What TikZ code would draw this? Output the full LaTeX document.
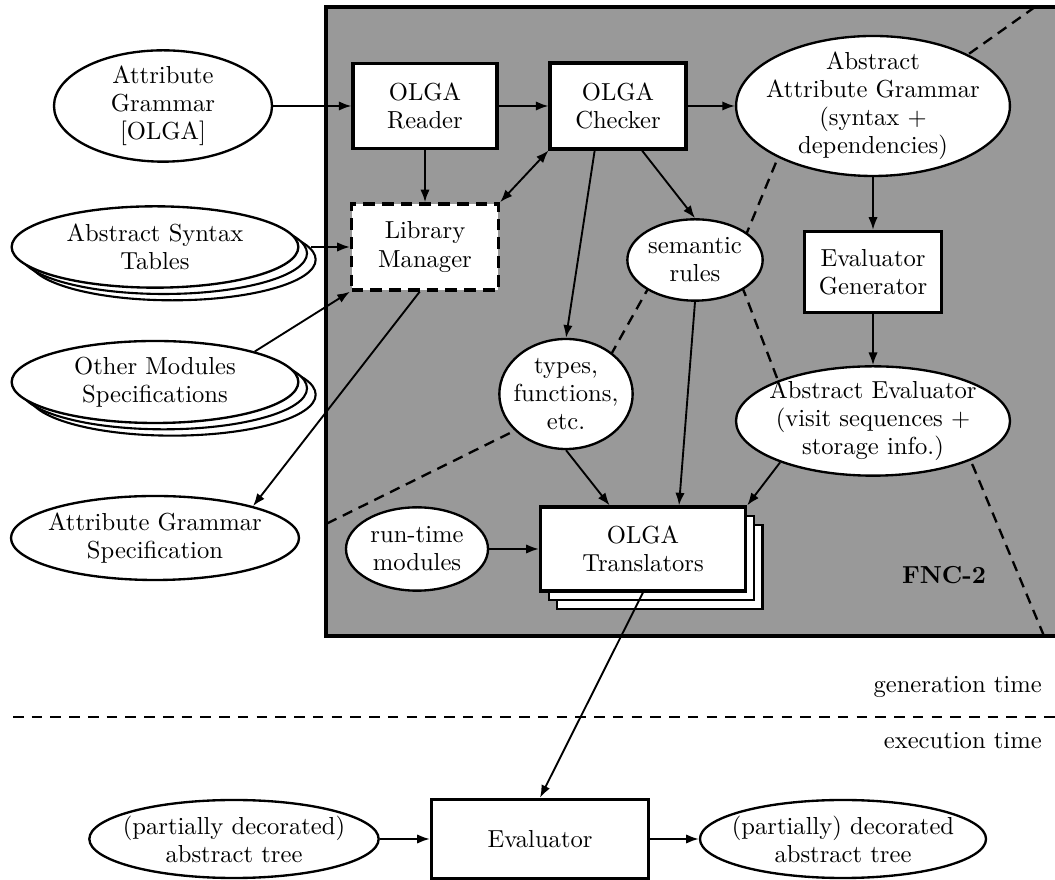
\documentclass[tikz,border=0pt]{standalone}
\usepackage{tikz}
\usetikzlibrary{arrows.meta,positioning,shapes.geometric,shadows}

\begin{document}
\begin{tikzpicture}[
    on grid,
    every node/.style={font=\fontsize{10.5}{12}\selectfont},
    box/.style={draw, fill=white, line width=1.3pt, align=center, inner sep=0pt},
    dashbox/.style={box, dash pattern=on 5pt off 3pt, line width=1.5pt},
    ell/.style={ellipse, draw, fill=white, line width=1pt, align=center, inner xsep=-0.15cm, inner ysep=-0.1cm},
    stackell/.style={ell,
        copy shadow={shadow xshift=7.4pt, shadow yshift=-5.4pt, fill=white, draw=black, line width=0.9pt},
        copy shadow={shadow xshift=3.7pt, shadow yshift=-2.7pt, fill=white, draw=black, line width=0.9pt}},
    stackbox/.style={box,
        copy shadow={shadow xshift=7.2pt, shadow yshift=-7.6pt, fill=white, draw=black, line width=0.9pt},
        copy shadow={shadow xshift=3.6pt, shadow yshift=-3.8pt, fill=white, draw=black, line width=0.9pt}},
    arrow/.style={-{Latex[length=1.9mm,width=1.4mm]}, line width=0.8pt},
    biarrow/.style={{Latex[length=1.9mm,width=1.4mm]}-{Latex[length=1.9mm,width=1.4mm]}, line width=0.8pt},
    cutline/.style={line width=1pt, dash pattern=on 4.5pt off 3pt},
    fncarea/.style={draw, line width=1.3pt, fill=black!40}
]
\useasboundingbox (0,0) rectangle (15.825,13.2);
\draw[fncarea] (4.89,3.66) rectangle (15.95,13.095);
\draw[cutline] (15.525,13.095) -- (14.595,12.435) -- (13.95,11.985) -- (11.91,11.4) -- (11.655,10.8)
    -- (11.22,9.75) -- (11.1,9.45) -- (9.84,9.075) -- (9.675,8.79) -- (9.195,7.935) -- (9.0,7.575)
    -- (7.95,6.855) -- (7.65,6.705) -- (4.89,5.34);
\draw[cutline] (11.025,9.15) -- (11.175,8.79) -- (11.655,7.53) -- (11.85,7.02) -- (14.4,6.6)
    -- (14.595,6.21) -- (15.66,3.66);
\node[font=\fontsize{10.5}{12}\selectfont\bfseries] (fnclabel) at (14.16,4.575) {FNC-2};

\node[ell, minimum width=3.27cm, minimum height=1.67cm] (agolga) at (2.445,11.61) {Attribute\\Grammar\\{[OLGA]}};
\node[box, minimum width=2.16cm, minimum height=1.28cm, right=3.93cm of agolga] (reader) {OLGA\\Reader};
\node[box, minimum width=2.04cm, minimum height=1.29cm, right=2.895cm of reader] (checker) {OLGA\\Checker};
\node[ell, minimum width=4.05cm, minimum height=2.1cm, right=3.825cm of checker] (aag) {Abstract\\Attribute Grammar\\(syntax +\\dependencies)};
\node[dashbox, minimum width=2.2cm, minimum height=1.29cm, below=2.115cm of reader] (libmgr) {Library\\Manager};
\node[stackell, minimum width=4.3cm, minimum height=1.22cm, left=4.05cm of libmgr] (ast) {Abstract Syntax\\Tables};
\node[stackell, minimum width=4.3cm, minimum height=1.23cm, below=2.025cm of ast] (oms) {Other Modules\\Specifications};
\node[ell, minimum width=4.32cm, minimum height=1.26cm, below=2.34cm of oms] (ags) {Attribute Grammar\\Specification};
\node[ell, minimum width=2.03cm, minimum height=1.22cm, below right=2.31cm and 1.155cm of checker] (sem) {semantic\\rules};
\node[box, minimum width=2.06cm, minimum height=1.22cm, below=2.49cm of aag] (evgen) {Evaluator\\Generator};
\node[ell, minimum width=4.11cm, minimum height=1.64cm, below=2.235cm of evgen] (abseval) {Abstract Evaluator\\(visit sequences +\\storage info.)};
\node[ell, minimum width=2.0cm, minimum height=1.65cm, below left=4.32cm and 0.78cm of checker] (types) {types,\\functions,\\etc.};
\node[stackbox, minimum width=3.08cm, minimum height=1.26cm, below right=2.325cm and 1.155cm of types] (transl) {OLGA\\Translators};
\node[ell, minimum width=2.13cm, minimum height=1.25cm, left=3.39cm of transl] (runtime) {run-time\\modules};
\node[box, minimum width=3.26cm, minimum height=1.19cm, below left=4.35cm and 1.545cm of transl] (evaluator) {Evaluator};
\node[ell, minimum width=4.34cm, minimum height=1.17cm, left=4.59cm of evaluator] (partin) {(partially decorated)\\abstract tree};
\node[ell, minimum width=4.28cm, minimum height=1.17cm, right=4.545cm of evaluator] (partout) {(partially) decorated\\abstract tree};

\draw[arrow] (agolga) -- (reader);
\draw[arrow] (reader) -- (checker);
\draw[arrow] (checker) -- (aag);
\draw[arrow] (reader) -- (libmgr);
\draw[biarrow] (libmgr.north east) -- (checker.south west);
\draw[arrow] ([xshift=5pt]ast.east) -- (libmgr.west);
\draw[arrow] (oms.17) -- (libmgr.south west);
\draw[arrow] ([xshift=-0.08cm]libmgr.south) -- (ags.18);
\draw[arrow] ([xshift=-0.35cm]checker.south) -- (types.north);
\draw[arrow] ([xshift=0.36cm]checker.south) -- (sem.north);
\draw[arrow] (aag) -- (evgen);
\draw[arrow] (evgen) -- (abseval);
\draw[arrow] (types.south) -- ([xshift=-0.5cm]transl.north);
\draw[arrow] (sem.south) -- ([xshift=0.54cm]transl.north);
\draw[arrow] (abseval.204) -- (transl.north east);
\draw[arrow] (runtime) -- (transl);
\draw[arrow] (transl.south) -- (evaluator.north);
\draw[arrow] (partin) -- (evaluator);
\draw[arrow] (evaluator) -- (partout);

\draw[line width=1pt, dash pattern=on 4.5pt off 3.5pt] (0.195,2.445) -- (15.825,2.445);
\node[anchor=east] (gentime) at (15.75,2.895) {generation time};
\node[anchor=east] (exectime) at (15.75,2.085) {execution time};
\end{tikzpicture}
\end{document}
